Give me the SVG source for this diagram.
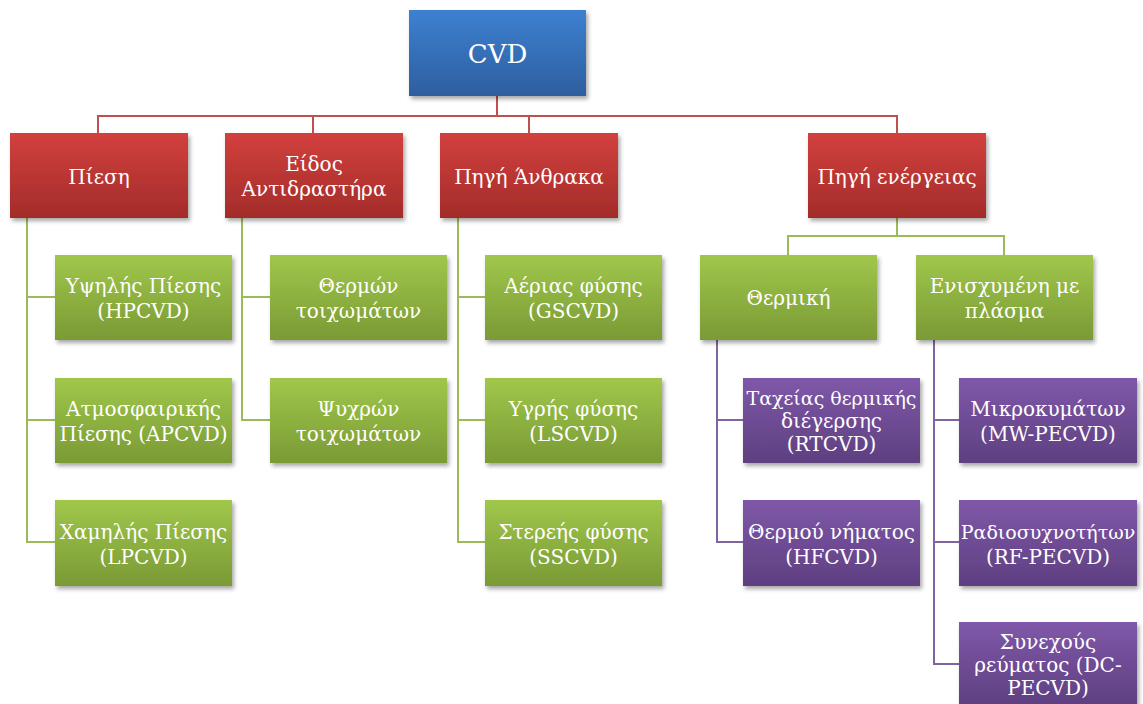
<svg xmlns="http://www.w3.org/2000/svg" width="1143" height="704" viewBox="0 0 1143 704">
<defs>
  <linearGradient id="gBlue" x1="0" y1="0" x2="0" y2="1"><stop offset="0" stop-color="#3e80d1"/><stop offset="1" stop-color="#2d5f9f"/></linearGradient>
  <linearGradient id="gRed" x1="0" y1="0" x2="0" y2="1"><stop offset="0" stop-color="#d2403d"/><stop offset="1" stop-color="#a32c2a"/></linearGradient>
  <linearGradient id="gGreen" x1="0" y1="0" x2="0" y2="1"><stop offset="0" stop-color="#a0c74b"/><stop offset="1" stop-color="#7a9a35"/></linearGradient>
  <linearGradient id="gPurple" x1="0" y1="0" x2="0" y2="1"><stop offset="0" stop-color="#7f58a9"/><stop offset="1" stop-color="#5e3f80"/></linearGradient>
  <filter id="sh" x="-10%" y="-10%" width="125%" height="130%">
    <feDropShadow dx="2" dy="3" stdDeviation="2" flood-color="#000" flood-opacity="0.35"/>
  </filter>
</defs>
<style>
  .box { filter: url(#sh); }
  .blue { fill: url(#gBlue); }
  .red { fill: url(#gRed); }
  .green { fill: url(#gGreen); }
  .purple { fill: url(#gPurple); }
  text { font-family: "DejaVu Serif", "Liberation Serif", serif; font-size: 20px; fill: #ffffff; text-anchor: middle; }
  .big { font-size: 26px; }
  .s { font-size: 19px; }
  .cr { stroke: #c0504d; stroke-width: 2; fill: none; }
  .cg { stroke: #9bbb59; stroke-width: 2; fill: none; }
  .cp { stroke: #8064a2; stroke-width: 2; fill: none; }
</style>

<g id="connectors">
  <path class="cr" d="M497 96 V116 M98 133 V116 H897 V133 M313 116 V133 M529 116 V133"/>
  <path class="cg" d="M27 218 V542 H55 M27 297 H55 M27 420 H55"/>
  <path class="cg" d="M242 218 V420 H270 M242 297 H270"/>
  <path class="cg" d="M458 218 V542 H485 M458 297 H485 M458 420 H485"/>
  <path class="cg" d="M897 218 V236 M788 255 V236 H1004 V255"/>
  <path class="cp" d="M717 340 V542 H743 M717 420 H743"/>
  <path class="cp" d="M934 340 V664 H959 M934 420 H959 M934 542 H959"/>
</g>

<g id="n-cvd"><rect class="box blue" x="409" y="10" width="177" height="86"/><text class="big" x="497.5" y="63">CVD</text></g>

<g id="n-piesi"><rect class="box red" x="10" y="133" width="178" height="85"/><text x="99" y="184">Πίεση</text></g>
<g id="n-eidos"><rect class="box red" x="225" y="133" width="178" height="85"/><text x="314" y="171">Είδος</text><text x="314" y="196">Αντιδραστήρα</text></g>
<g id="n-anthraka"><rect class="box red" x="440" y="133" width="178" height="85"/><text x="529" y="184">Πηγή Άνθρακα</text></g>
<g id="n-energeias"><rect class="box red" x="808" y="133" width="178" height="85"/><text x="897" y="184">Πηγή ενέργειας</text></g>

<g id="n-hpcvd"><rect class="box green" x="55" y="255" width="177" height="85"/><text x="143.5" y="293">Υψηλής Πίεσης</text><text x="143.5" y="318">(HPCVD)</text></g>
<g id="n-apcvd"><rect class="box green" x="55" y="378" width="177" height="85"/><text x="143.5" y="416">Ατμοσφαιρικής</text><text x="143.5" y="441">Πίεσης (APCVD)</text></g>
<g id="n-lpcvd"><rect class="box green" x="55" y="500" width="177" height="86"/><text x="143.5" y="539">Χαμηλής Πίεσης</text><text x="143.5" y="564">(LPCVD)</text></g>

<g id="n-thermon"><rect class="box green" x="270" y="255" width="177" height="85"/><text x="358.5" y="293">Θερμών</text><text x="358.5" y="318">τοιχωμάτων</text></g>
<g id="n-psychron"><rect class="box green" x="270" y="378" width="177" height="85"/><text x="358.5" y="416">Ψυχρών</text><text x="358.5" y="441">τοιχωμάτων</text></g>

<g id="n-gscvd"><rect class="box green" x="485" y="255" width="177" height="85"/><text x="573.5" y="293">Αέριας φύσης</text><text x="573.5" y="318">(GSCVD)</text></g>
<g id="n-lscvd"><rect class="box green" x="485" y="378" width="177" height="85"/><text x="573.5" y="416">Υγρής φύσης</text><text x="573.5" y="441">(LSCVD)</text></g>
<g id="n-sscvd"><rect class="box green" x="485" y="500" width="177" height="86"/><text x="573.5" y="539">Στερεής φύσης</text><text x="573.5" y="564">(SSCVD)</text></g>

<g id="n-thermiki"><rect class="box green" x="700" y="255" width="177" height="85"/><text x="788.5" y="305">Θερμική</text></g>
<g id="n-plasma"><rect class="box green" x="916" y="255" width="177" height="85"/><text x="1004.5" y="293">Ενισχυμένη με</text><text x="1004.5" y="318">πλάσμα</text></g>

<g id="n-rtcvd"><rect class="box purple" x="743" y="378" width="177" height="85"/><text class="s" x="831.5" y="405">Ταχείας θερμικής</text><text x="831.5" y="428">διέγερσης</text><text x="831.5" y="451">(RTCVD)</text></g>
<g id="n-hfcvd"><rect class="box purple" x="743" y="500" width="177" height="86"/><text x="831.5" y="539">Θερμού νήματος</text><text x="831.5" y="564">(HFCVD)</text></g>

<g id="n-mw"><rect class="box purple" x="959" y="378" width="178" height="85"/><text x="1048" y="416">Μικροκυμάτων</text><text x="1048" y="441">(MW-PECVD)</text></g>
<g id="n-rf"><rect class="box purple" x="959" y="500" width="178" height="86"/><text class="s" x="1048" y="539">Ραδιοσυχνοτήτων</text><text x="1048" y="564">(RF-PECVD)</text></g>
<g id="n-dc"><rect class="box purple" x="959" y="622" width="178" height="85"/><text x="1048" y="649">Συνεχούς</text><text x="1048" y="672">ρεύματος (DC-</text><text x="1048" y="695">PECVD)</text></g>
</svg>
